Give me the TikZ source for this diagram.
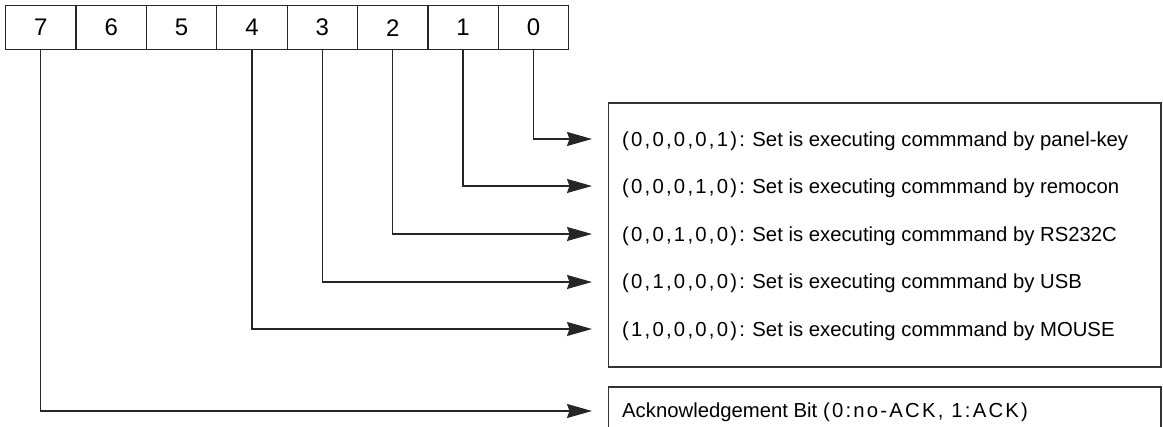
\documentclass[tikz,border=0pt]{standalone}
\usepackage{fontspec}
\setmainfont{Liberation Sans}
\usetikzlibrary{arrows.meta}
\newcommand\spc[1]{{\addfontfeature{LetterSpace=11}#1}}
\begin{document}
\begin{tikzpicture}[x=1pt,y=1pt,
  frame/.style={draw=black!80, line width=1.5pt},
  bitcell/.style={draw=black!85, line width=1.3pt, minimum width=70.375pt, minimum height=44pt, inner sep=0pt, anchor=north west, font=\fontsize{24}{26}\selectfont},
  rowtext/.style={anchor=west, inner sep=0pt, font=\fontsize{20.3}{22}\selectfont},
  link/.style={draw=black!85, line width=1.3pt, -{Stealth[length=25pt,width=14pt,inset=2.5pt]}}
]
\useasboundingbox (0,0) rectangle (1163,427);
\clip (0,0) rectangle (1163,427);
% bit cells
\foreach \b [count=\k from 0] in {7,6,5,4,3,2,1,0} {
  \node[bitcell] (b\b) at ({5+\k*70.375},{427-5}) {\b};
}
% boxes
\draw[frame] (608.5,{427-103}) rectangle (1161,{427-367});
\draw[frame] (608.5,{427-387}) rectangle (1161,-20);
% texts
\node[rowtext] (t0) at (622,{427-141}) {\spc{(0,0,0,0,1):} Set is executing commmand by panel-key};
\node[rowtext] (t1) at (622,{427-188}) {\spc{(0,0,0,1,0):} Set is executing commmand by remocon};
\node[rowtext] (t2) at (622,{427-236}) {\spc{(0,0,1,0,0):} Set is executing commmand by RS232C};
\node[rowtext] (t3) at (622,{427-283}) {\spc{(0,1,0,0,0):} Set is executing commmand by USB};
\node[rowtext] (t4) at (622,{427-331}) {\spc{(1,0,0,0,0):} Set is executing commmand by MOUSE};
\node[rowtext] (t7) at (622,{427-412}) {Acknowledgement Bit \spc{(0:no-ACK, 1:ACK)}};
% arrow targets
\coordinate (a0) at (592,{427-139});
\coordinate (a1) at (592,{427-186});
\coordinate (a2) at (592,{427-234});
\coordinate (a3) at (592,{427-282});
\coordinate (a4) at (592,{427-329});
\coordinate (a7) at (592,{427-411});
\foreach \b in {0,1,2,3,4,7} {
  \draw[link] (b\b.south) |- (a\b);
}
\end{tikzpicture}
\end{document}
